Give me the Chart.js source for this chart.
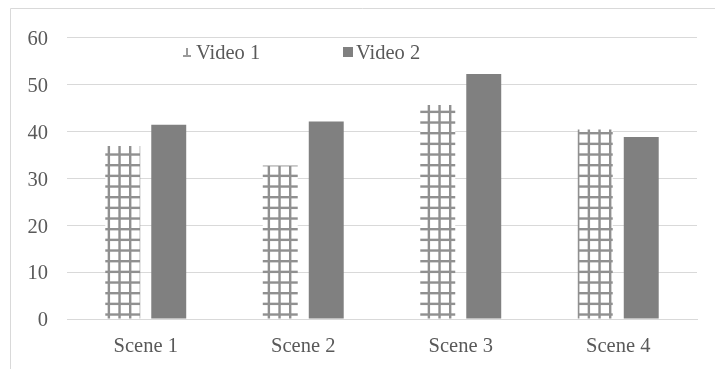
<!DOCTYPE html>
<html>
<head>
<meta charset="utf-8">
<script src="https://cdn.jsdelivr.net/npm/chart.js@4/dist/chart.umd.min.js"></script>
<style>
  html, body { margin: 0; padding: 0; background: #ffffff; }
  #wrap { width: 715px; height: 369px; position: relative; }
</style>
</head>
<body>
<div id="wrap"><canvas id="c" width="715" height="369"></canvas></div>
<script>
// Scene categories and the two video series
const scenes = ['Scene 1', 'Scene 2', 'Scene 3', 'Scene 4'];
const video1 = [36.9, 32.7, 45.6, 40.4];
const video2 = [41.4, 42.1, 52.2, 38.8];
const seriesNames = ['Video 1', 'Video 2'];
const yTicks = [0, 10, 20, 30, 40, 50, 60];

const TEXT = '#595959';
const GRID = '#d9d9d9';
const SOLID = '#808080';
const FONT = '"Liberation Serif", "Times New Roman", serif';

// Cross-hatched grid fill for the first series
function makeGridPattern() {
  const size = 32;
  const pc = document.createElement('canvas');
  pc.width = size; pc.height = size;
  const g = pc.getContext('2d');
  g.fillStyle = '#ffffff';
  g.fillRect(0, 0, size, size);
  g.fillStyle = '#909090';
  const step = size / 3;
  for (let i = 0; i < 3; i++) {
    g.fillRect(i * step + 1, 0, 2.4, size);
    g.fillRect(0, i * step + 4, size, 2.4);
  }
  return g.createPattern(pc, 'repeat');
}

const ctx = document.getElementById('c').getContext('2d');
const gridFill = makeGridPattern();

// Outer frame lines (top and left edges)
const framePlugin = {
  id: 'frame',
  beforeDraw(chart) {
    const c = chart.ctx;
    c.save();
    c.strokeStyle = GRID;
    c.lineWidth = 1;
    c.beginPath();
    c.moveTo(10.5, chart.height);
    c.lineTo(10.5, 8.5);
    c.lineTo(chart.width, 8.5);
    c.stroke();
    c.restore();
  }
};

// Legend drawn inside the plot area near the top
const insideLegend = {
  id: 'insideLegend',
  afterDraw(chart) {
    const c = chart.ctx;
    const area = chart.chartArea;
    const items = [
      { x: area.left + 116, fill: gridFill, text: seriesNames[0] },
      { x: area.left + 276, fill: SOLID, text: seriesNames[1] }
    ];
    const cy = 52;
    c.save();
    c.font = '20.5px ' + FONT;
    c.textBaseline = 'middle';
    c.fillStyle = TEXT;
    items.forEach(it => {
      c.save();
      if (it.fill === gridFill) {
        // small swatch of the hatch
        c.fillStyle = '#9a9a9a';
        c.fillRect(it.x + 3, cy - 4, 2, 8);
        c.fillRect(it.x, cy + 3, 8, 2);
      } else {
        c.fillStyle = it.fill;
        c.fillRect(it.x, cy - 5, 10, 10);
      }
      c.restore();
      c.fillStyle = TEXT;
      c.fillText(it.text, it.x + 13, cy + 1.5);
    });
    c.restore();
  }
};

new Chart(ctx, {
  type: 'bar',
  data: {
    labels: scenes,
    datasets: [
      { label: seriesNames[0], data: video1, backgroundColor: gridFill, borderWidth: 0,
        categoryPercentage: 0.584, barPercentage: 0.76 },
      { label: seriesNames[1], data: video2, backgroundColor: SOLID, borderWidth: 0,
        categoryPercentage: 0.584, barPercentage: 0.76 }
    ]
  },
  options: {
    responsive: false,
    animation: false,
    devicePixelRatio: 1,
    layout: { padding: { top: 37.5, right: 18, left: 0, bottom: 0 } },
    plugins: {
      legend: { display: false },
      tooltip: { enabled: false }
    },
    scales: {
      x: {
        grid: { display: false, drawTicks: false },
        border: { display: true, color: GRID, width: 1 },
        ticks: { color: TEXT, font: { family: FONT, size: 20.5 }, padding: 15 },
        afterFit(s) { s.height = 50; }
      },
      y: {
        min: 0, max: 60,
        afterBuildTicks(s) { s.ticks = yTicks.map(v => ({ value: v })); },
        grid: { color: GRID, lineWidth: 1, drawTicks: false },
        border: { display: false },
        ticks: { color: TEXT, font: { family: FONT, size: 20.5 }, padding: 19, labelOffset: 2 },
        afterFit(s) { s.width = 67; }
      }
    }
  },
  plugins: [framePlugin, insideLegend]
});
</script>
</body>
</html>
